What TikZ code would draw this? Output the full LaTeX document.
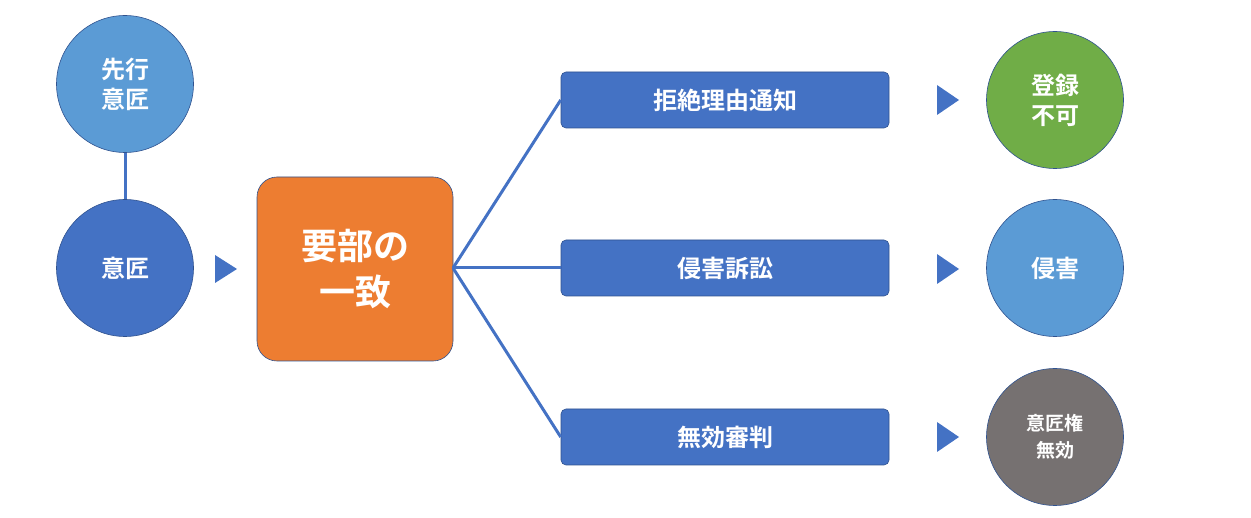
\documentclass[tikz,border=0pt]{standalone}
\usepackage{fontspec}
\setmainfont{Noto Sans CJK JP}[BoldFont={Noto Sans CJK JP Bold}]
\definecolor{cb}{HTML}{4472C4}
\definecolor{lb}{HTML}{5B9BD5}
\definecolor{or}{HTML}{ED7D31}
\definecolor{gr}{HTML}{70AD47}
\definecolor{gy}{HTML}{767171}
\definecolor{ol}{HTML}{2F528F}
\begin{document}
\begin{tikzpicture}[x=1pt,y=-1pt,
 circ/.style={circle,draw=ol,line width=0.6pt,minimum size=137pt,inner sep=0pt,text=white,font=\fontsize{24}{30}\selectfont\bfseries,align=center},
 box/.style={rectangle,rounded corners=5pt,draw=ol,line width=0.6pt,fill=cb,minimum width=328pt,minimum height=56pt,text=white,font=\fontsize{24}{30}\selectfont\bfseries},
 tri/.style={fill=cb},
 conn/.style={draw=cb,line width=3pt}]
\useasboundingbox (0,0) rectangle (1251,518);
\node[circ,fill=lb] (p) at (125,84) {先行\\意匠};
\node[circ,fill=cb] (d) at (125,268) {意匠};
\draw[conn] (p) -- (d);
\fill[tri] (215,255) -- (237,269) -- (215,283) -- cycle;
\node[rectangle,rounded corners=20pt,draw=ol,line width=0.6pt,fill=or,minimum width=196pt,minimum height=184pt,text=white,font=\fontsize{36}{46}\selectfont\bfseries,align=center] (m) at (355,269) {要部の\\一致};
\coordinate (mr) at (453,268);
\node[box] (b1) at (725,100) {拒絶理由通知};
\node[box] (b2) at (725,268) {侵害訴訟};
\node[box] (b3) at (725,437) {無効審判};
\draw[conn] (mr) -- (b1.west);
\draw[conn] (mr) -- (b2.west);
\draw[conn] (mr) -- (b3.west);
\foreach \y in {100,269,437} \fill[tri] (937,\y-15) -- (959,\y) -- (937,\y+15) -- cycle;
\node[circ,fill=gr] (r1) at (1055,100) {登録\\不可};
\node[circ,fill=lb] (r2) at (1055,268) {侵害};
\node[circ,fill=gy,font=\fontsize{19}{27}\selectfont\bfseries] (r3) at (1055,437) {意匠権\\無効};
\end{tikzpicture}
\end{document}
